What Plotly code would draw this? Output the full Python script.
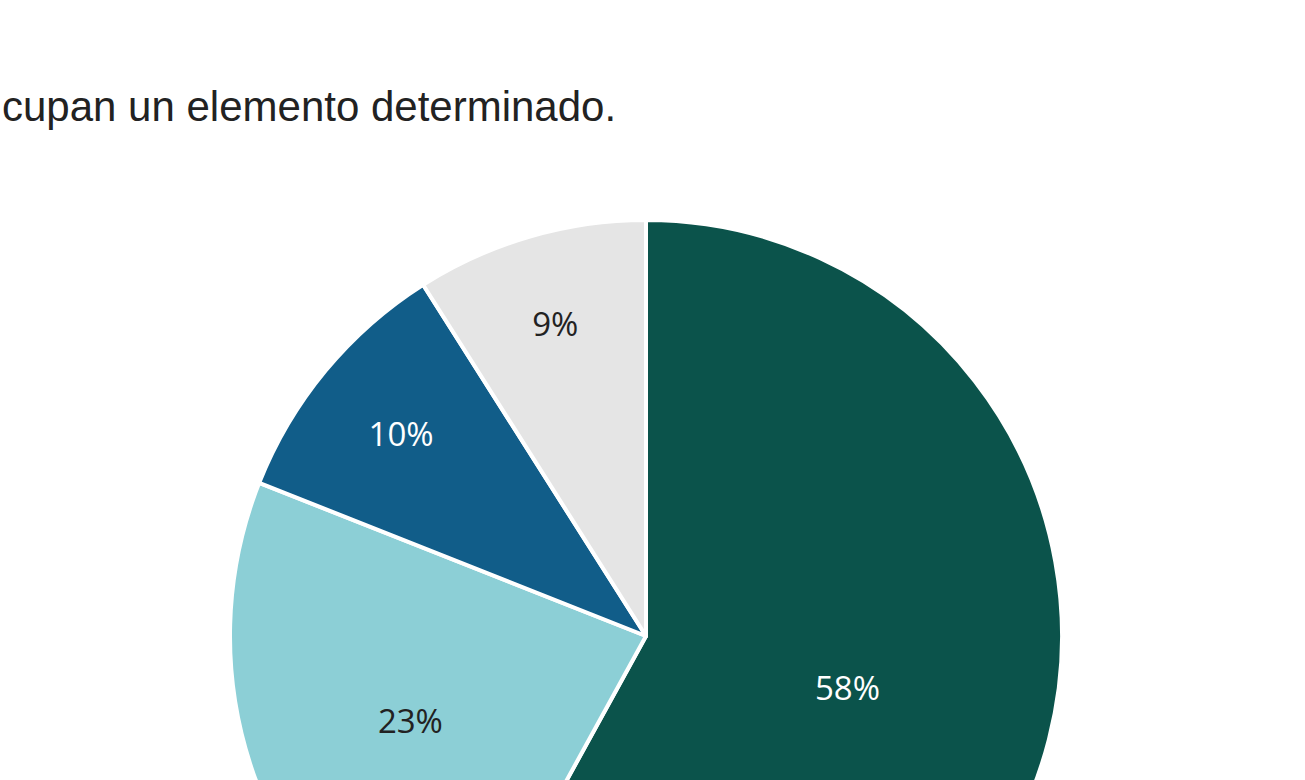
import plotly.graph_objects as go

labels = ["A", "B", "C", "D"]
values = [58, 23, 10, 9]
colors = ["#0b534b", "#8ccfd6", "#115d89", "#e5e5e5"]
text_colors = ["#ffffff", "#222222", "#ffffff", "#222222"]
title_text = "cupan un elemento determinado."

W, H = 1305, 1075
cx, cy, r = 646, 636, 416  # pixel coords of pie centre / radius

fig = go.Figure(go.Pie(
    labels=labels,
    values=values,
    sort=False,
    direction="clockwise",
    rotation=0,
    marker=dict(colors=colors, line=dict(color="#ffffff", width=4)),
    texttemplate="%{percent:.0%}",
    textposition="inside",
    insidetextorientation="horizontal",
    textfont=dict(family="Open Sans", size=33, color=text_colors),
    hoverinfo="skip",
    showlegend=False,
    domain=dict(x=[(cx - r) / W, (cx + r) / W], y=[(H - cy - r) / H, (H - cy + r) / H]),
))

fig.add_annotation(
    text=title_text, xref="paper", yref="paper",
    x=0, y=1 - 106 / H, xanchor="left", yanchor="middle",
    showarrow=False,
    font=dict(family="Liberation Sans", size=42, color="#222222"),
)

fig.update_layout(
    width=W, height=H,
    margin=dict(l=0, r=0, t=0, b=0),
    paper_bgcolor="#ffffff",
    plot_bgcolor="#ffffff",
)

fig.write_html(
    "out.html",
    config={"displayModeBar": False},
    post_script="document.body.style.margin='0';",
)
